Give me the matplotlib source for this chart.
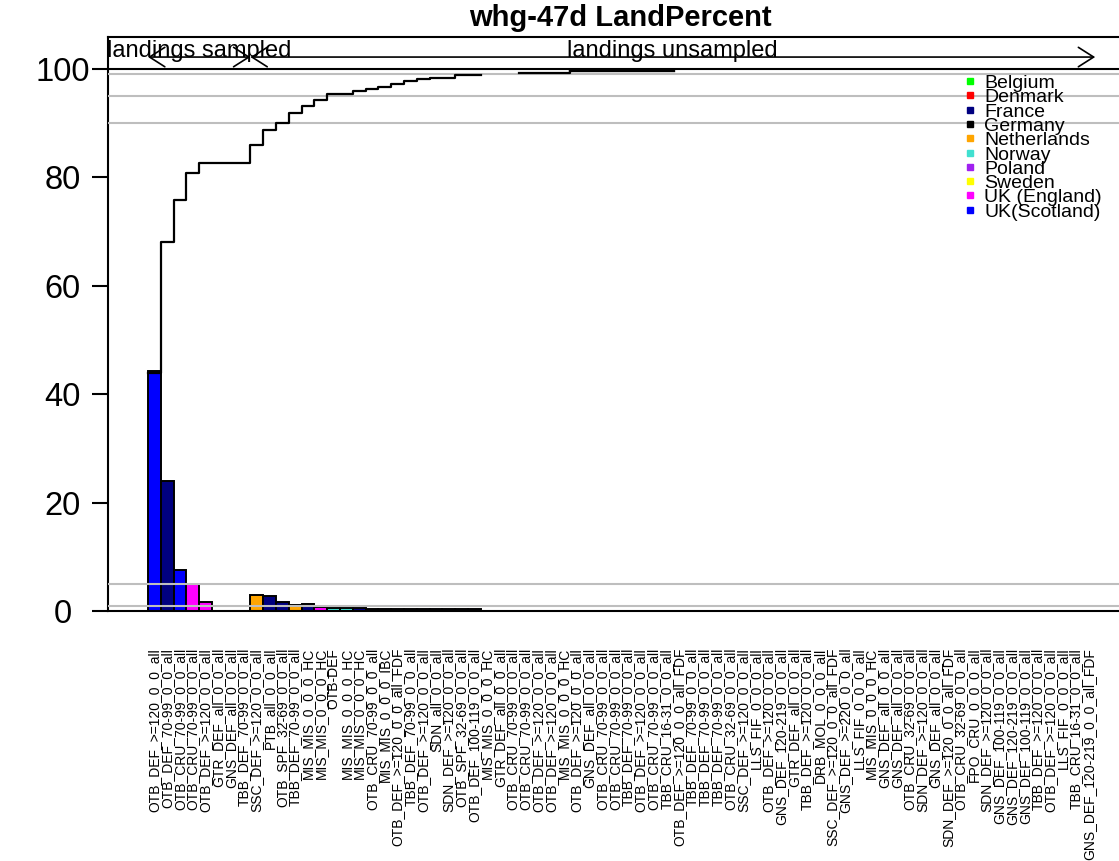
import numpy as np
import matplotlib
matplotlib.use('Agg')
import matplotlib.pyplot as plt
from matplotlib.patches import FancyArrowPatch, ArrowStyle

plt.rcParams['font.family'] = ['Liberation Sans', 'DejaVu Sans']

# metier labels, one per bar (left to right)
metiers = [
    'OTB_DEF_>=120_0_0_all', 'OTB_DEF_70-99_0_0_all', 'OTB_CRU_70-99_0_0_all',
    'OTB_CRU_70-99_0_0_all', 'OTB_DEF_>=120_0_0_all', 'GTR_DEF_all_0_0_all',
    'GNS_DEF_all_0_0_all', 'TBB_DEF_70-99_0_0_all', 'SSC_DEF_>=120_0_0_all',
    'PTB_all_0_0_all', 'OTB_SPF_32-69_0_0_all', 'TBB_DEF_70-99_0_0_all',
    'MIS_MIS_0_0_0_HC', 'MIS_MIS_0_0_0_HC', 'OTB-DEF', 'MIS_MIS_0_0_0_HC',
    'MIS_MIS_0_0_0_HC', 'OTB_CRU_70-99_0_0_all', 'MIS_MIS_0_0_0_IBC',
    'OTB_DEF_>=120_0_0_all_FDF', 'TBB_DEF_70-99_0_0_all', 'OTB_DEF_>=120_0_0_all',
    'SDN_all_0_0_all', 'SDN_DEF_>=120_0_0_all', 'OTB_SPF_32-69_0_0_all',
    'OTB_DEF_100-119_0_0_all', 'MIS_MIS_0_0_0_HC', 'GTR_DEF_all_0_0_all',
    'OTB_CRU_70-99_0_0_all', 'OTB_CRU_70-99_0_0_all', 'OTB_DEF_>=120_0_0_all',
    'OTB_DEF_>=120_0_0_all', 'MIS_MIS_0_0_0_HC', 'OTB_DEF_>=120_0_0_all',
    'GNS_DEF_all_0_0_all', 'OTB_CRU_70-99_0_0_all', 'OTB_CRU_70-99_0_0_all',
    'TBB_DEF_70-99_0_0_all', 'OTB_DEF_>=120_0_0_all', 'OTB_CRU_70-99_0_0_all',
    'TBB_CRU_16-31_0_0_all', 'OTB_DEF_>=120_0_0_all_FDF', 'TBB_DEF_70-99_0_0_all',
    'TBB_DEF_70-99_0_0_all', 'TBB_DEF_70-99_0_0_all', 'OTB_CRU_32-69_0_0_all',
    'SSC_DEF_>=120_0_0_all', 'LLS_FIF_0_0_0_all', 'OTB_DEF_>=120_0_0_all',
    'GNS_DEF_120-219_0_0_all', 'GTR_DEF_all_0_0_all', 'TBB_DEF_>=120_0_0_all',
    'DRB_MOL_0_0_0_all', 'SSC_DEF_>=120_0_0_all_FDF', 'GNS_DEF_>=220_0_0_all',
    'LLS_FIF_0_0_0_all', 'MIS_MIS_0_0_0_HC', 'GNS_DEF_all_0_0_all',
    'GNS_DEF_all_0_0_all', 'OTB_CRU_32-69_0_0_all', 'SDN_DEF_>=120_0_0_all',
    'GNS_DEF_all_0_0_all', 'SDN_DEF_>=120_0_0_all_FDF', 'OTB_CRU_32-69_0_0_all',
    'FPO_CRU_0_0_0_all', 'SDN_DEF_>=120_0_0_all', 'GNS_DEF_100-119_0_0_all',
    'GNS_DEF_120-219_0_0_all', 'GNS_DEF_100-119_0_0_all', 'TBB_DEF_>=120_0_0_all',
    'OTB_DEF_>=120_0_0_all', 'LLS_FIF_0_0_0_all', 'TBB_CRU_16-31_0_0_all',
    'GNS_DEF_120-219_0_0_all_FDF',
]
nbar = len(metiers)

# percent of landings per bar (bars not listed are ~0)
land_pct = [44.2, 24.0, 7.5, 5.0, 1.7, 0, 0, 0, 3.0, 2.7, 1.7, 1.1, 1.2, 0.8,
            0.6, 0.6, 0.5, 0.45, 0.45, 0.45, 0.4, 0.4, 0.4, 0.35, 0.35, 0.3]
land_pct = land_pct + [0] * (nbar - len(land_pct))

bar_country = ['UK(Scotland)', 'France', 'UK(Scotland)', 'UK (England)', 'UK (England)',
               'Germany', 'Germany', 'Germany', 'Netherlands', 'France', 'France',
               'Netherlands', 'France', 'UK (England)', 'Norway', 'Norway',
               'France', 'France', 'France', 'France', 'France', 'France',
               'France', 'France', 'France', 'France']
bar_country = bar_country + ['Germany'] * (nbar - len(bar_country))

# cumulative percent, drawn across each bar (nan = not drawn)
nan = np.nan
cum_pct = [44.0, 68.0, 75.8, 80.9, 82.6, 82.6, 82.6, 82.6, 86.0, 88.7, 90.0, 91.9,
           93.2, 94.3, 95.3, 95.3, 95.9, 96.3, 96.7, 97.3, 97.7, 98.1, 98.4, 98.4,
           98.8, 98.8, nan, nan, nan, 99.3, 99.3, 99.3, 99.3, 99.8, 99.8, 99.8,
           99.8, 99.8, 99.8, 99.8, 99.8]
cum_pct = cum_pct + [nan] * (nbar - len(cum_pct))

countries = ['Belgium', 'Denmark', 'France', 'Germany', 'Netherlands', 'Norway',
             'Poland', 'Sweden', 'UK (England)', 'UK(Scotland)']
country_cols = ['#00FF00', '#FF0000', '#000080', '#000000', '#FFA500', '#40E0D0',
                '#A020F0', '#FFFF00', '#FF00FF', '#0000FF']
col_of = dict(zip(countries, country_cols))

ref_lines = [99, 95, 90, 5, 1]
n_sampled = 8

W, H = 1119, 861
fig = plt.figure(figsize=(W / 100, H / 100), dpi=100)
ax = fig.add_axes([108 / W, 250 / H, 1024 / W, 574 / H])
ax.set_xlim(-3.125, 76.875)
ax.set_ylim(0, 105.9)

x = np.arange(nbar)
ax.bar(x, land_pct, width=1, align='edge', color=[col_of[c] for c in bar_country],
       edgecolor='black', linewidth=1.4, zorder=2)

# cumulative step line across bars
cum = np.array(cum_pct, dtype=float)
xs = np.repeat(np.arange(nbar + 1), 2)[1:-1]
ys = np.repeat(cum, 2)
ax.plot(xs, ys, color='black', lw=1.6, zorder=4)
ax.plot(xs[66:82], ys[66:82], color='black', lw=2.4, zorder=4)

for yv in ref_lines:
    ax.axhline(yv, color='#BEBEBE', lw=1.5, zorder=3)
ax.axhline(100, color='black', lw=1.5, zorder=3)

# sampled / unsampled arrows
arr_y = 102.2
st = ArrowStyle('<->', head_length=11, head_width=7)
for a, b in [(0, n_sampled), (n_sampled, nbar)]:
    ax.add_patch(FancyArrowPatch((a, arr_y), (b, arr_y), arrowstyle=st,
                                 mutation_scale=1, shrinkA=0, shrinkB=0,
                                 color='black', lw=1.2, zorder=5))
ax.text(n_sampled / 2, arr_y, 'landings sampled', ha='center', va='baseline',
        fontsize=17, clip_on=True, zorder=6)
ax.text((n_sampled + nbar) / 2, arr_y, 'landings unsampled', ha='center',
        va='baseline', fontsize=17, clip_on=True, zorder=6)

ax.set_yticks([0, 20, 40, 60, 80, 100])
ax.tick_params(axis='y', length=11.5, width=1.5, labelsize=23.5, pad=21)
for t in ax.get_yticklabels():
    t.set_ha('center')
ax.set_xticks(x + 0.5)
ax.set_xticklabels(metiers, rotation=90, fontsize=10)
ax.tick_params(axis='x', length=0, pad=26.5)

ax.spines['right'].set_visible(False)
for s in ['left', 'top', 'bottom']:
    ax.spines[s].set_linewidth(1.5)

fig.text(620 / W, 1 - 18 / H, 'whg-47d LandPercent', ha='center', va='center',
         fontsize=21, weight='bold')

# legend drawn by hand to get the tight R spacing
for i, (name, col) in enumerate(zip(countries, country_cols)):
    ym = 81 + 14.3 * i
    fig.lines.append(plt.Line2D([970 / W], [1 - ym / H], marker='s', ms=4.5,
                                color=col, ls='none', transform=fig.transFigure))
    fig.text(984 / W, 1 - (ym + 7) / H, name, ha='left', va='baseline', fontsize=14)

fig.savefig('out.png', dpi=100)
